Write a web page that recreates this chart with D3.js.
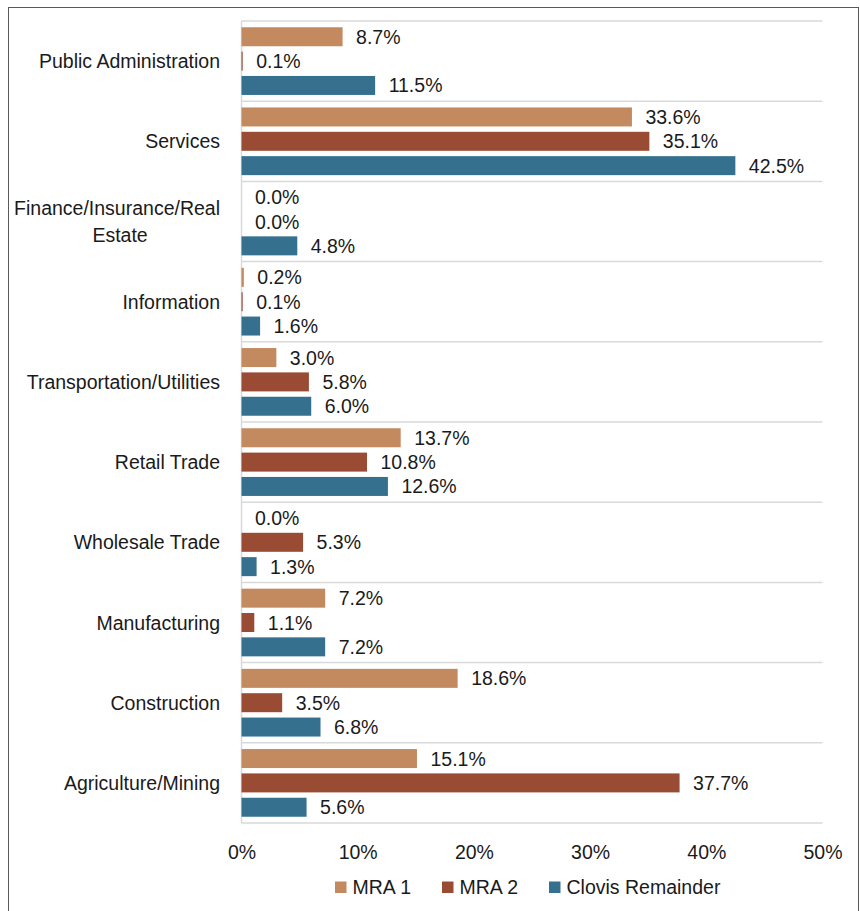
<!DOCTYPE html>
<html>
<head>
<meta charset="utf-8">
<script src="https://cdn.jsdelivr.net/npm/d3@7"></script>
<style>
  html, body { margin: 0; padding: 0; background: #fff; }
  svg text { font-family: "Liberation Sans", Arial, sans-serif; fill: #1a1a1a; }
</style>
</head>
<body>
<svg id="chart" width="860" height="911"></svg>
<script>
const categories = ["Public Administration", "Services", "Finance/Insurance/Real Estate", "Information",
  "Transportation/Utilities", "Retail Trade", "Wholesale Trade", "Manufacturing", "Construction", "Agriculture/Mining"];
const seriesNames = ["MRA 1", "MRA 2", "Clovis Remainder"];
const mra1   = [8.7, 33.6, 0.0, 0.2, 3.0, 13.7, 0.0, 7.2, 18.6, 15.1];
const mra2   = [0.1, 35.1, 0.0, 0.1, 5.8, 10.8, 5.3, 1.1, 3.5, 37.7];
const clovis = [11.5, 42.5, 4.8, 1.6, 6.0, 12.6, 1.3, 7.2, 6.8, 5.6];
const xTicks = [0, 10, 20, 30, 40, 50];
const colors = ["#C3895F", "#994B33", "#35708E"];

const seriesValues = [mra1, mra2, clovis];
const svg = d3.select("#chart");

// outer border
svg.append("rect").attr("x", 8.5).attr("y", 7.5).attr("width", 850).attr("height", 930)
  .attr("fill", "none").attr("stroke", "#595959").attr("stroke-width", 1);

const x = d3.scaleLinear().domain([0, 50]).range([241.5, 822.5]);
const y = d3.scaleBand().domain(categories).range([21, 823]).paddingInner(0).paddingOuter(0);
const yInner = d3.scaleBand().domain(seriesNames).range([0, y.bandwidth()])
  .paddingInner(0.22).paddingOuter(0.257);

const fontSize = 19.5;

// grid separators
const bounds = categories.map(c => y(c)).concat([y(categories[categories.length - 1]) + y.bandwidth()]);
svg.append("g").selectAll("line").data(bounds).join("line")
  .attr("x1", x(0)).attr("x2", x(50))
  .attr("y1", d => d).attr("y2", d => d)
  .attr("stroke", "#d9d9d9").attr("stroke-width", 1.5);
// vertical axis line
svg.append("line").attr("x1", x(0)).attr("x2", x(0)).attr("y1", 21).attr("y2", 823)
  .attr("stroke", "#d9d9d9").attr("stroke-width", 1.5);

// bars
const rows = [];
categories.forEach((c, i) => {
  seriesNames.forEach((s, j) => rows.push({cat: c, ser: s, j, v: seriesValues[j][i]}));
});
const g = svg.append("g");
g.selectAll("rect").data(rows).join("rect")
  .attr("x", x(0))
  .attr("y", d => y(d.cat) + yInner(d.ser))
  .attr("width", d => Math.max(0, x(d.v) - x(0)))
  .attr("height", yInner.bandwidth())
  .attr("fill", d => colors[d.j]);

// value labels
g.selectAll("text").data(rows).join("text")
  .attr("x", d => x(d.v) + 13.5)
  .attr("y", d => y(d.cat) + yInner(d.ser) + yInner.bandwidth() / 2)
  .attr("dy", "0.36em")
  .attr("font-size", fontSize)
  .text(d => d.v.toFixed(1) + "%");

// category labels
const labG = svg.append("g");
categories.forEach(c => {
  const cy = y(c) + y.bandwidth() / 2;
  if (c === "Finance/Insurance/Real Estate") {
    const t1 = labG.append("text").attr("x", 220).attr("y", cy - 13.5).attr("dy", "0.36em")
      .attr("text-anchor", "end").attr("font-size", fontSize).text("Finance/Insurance/Real");
    const w = t1.node().getComputedTextLength();
    labG.append("text").attr("x", 220 - w / 2 + 3).attr("y", cy + 13.5).attr("dy", "0.36em")
      .attr("text-anchor", "middle").attr("font-size", fontSize).text("Estate");
  } else {
    labG.append("text").attr("x", 220).attr("y", cy).attr("dy", "0.36em")
      .attr("text-anchor", "end").attr("font-size", fontSize).text(c);
  }
});

// x axis tick labels
const xAxis = d3.axisBottom(x).tickValues(xTicks).tickFormat(d => d + "%").tickSize(0).tickPadding(0);
const ax = svg.append("g").attr("transform", "translate(0,845)").call(xAxis);
ax.select(".domain").remove();
ax.selectAll("text").attr("font-size", fontSize).attr("fill", "#1a1a1a")
  .attr("font-family", "Liberation Sans, Arial, sans-serif");

// legend
const legendX = [335, 442, 549];
const lg = svg.append("g");
seriesNames.forEach((s, j) => {
  lg.append("rect").attr("x", legendX[j]).attr("y", 881.5).attr("width", 11.5).attr("height", 11.5)
    .attr("fill", colors[j]);
  lg.append("text").attr("x", legendX[j] + 17.5).attr("y", 887).attr("dy", "0.36em")
    .attr("font-size", fontSize).text(s);
});
</script>
</body>
</html>
